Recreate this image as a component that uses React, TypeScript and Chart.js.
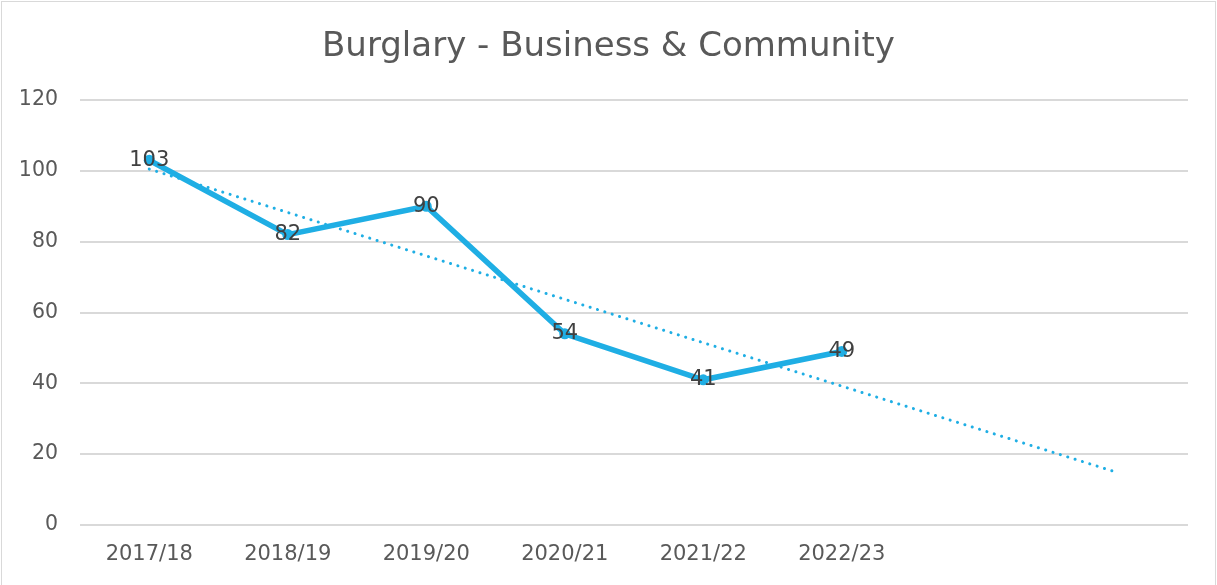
import React, { useEffect, useRef } from "react";
import { Chart, registerables } from "chart.js";

Chart.register(...registerables);

const categories = ["2017/18", "2018/19", "2019/20", "2020/21", "2021/22", "2022/23", "", ""];
const burglaryValues: (number | null)[] = [103, 82, 90, 54, 41, 49, null, null];
const trendValues: (number | null)[] = [100.5, null, null, null, null, null, null, 14.7];
const yTicks = [0, 20, 40, 60, 80, 100, 120];

const FONT = "'DejaVu Sans', sans-serif";
const BLUE = "#1FAEE4";

const dataLabelPlugin = {
  id: "dataLabels",
  afterDatasetsDraw(chart: any) {
    const ctx = chart.ctx;
    const meta = chart.getDatasetMeta(0);
    ctx.save();
    ctx.font = `21px ${FONT}`;
    ctx.fillStyle = "#404040";
    ctx.textAlign = "center";
    ctx.textBaseline = "middle";
    meta.data.forEach((pt: any, i: number) => {
      const v = burglaryValues[i];
      if (v === null || v === undefined) return;
      ctx.fillText(String(v), pt.x, pt.y);
    });
    ctx.restore();
  },
};

export default function App() {
  const ref = useRef<HTMLCanvasElement | null>(null);
  useEffect(() => {
    if (!ref.current) return;
    const chart = new Chart(ref.current, {
      type: "line",
      data: {
        labels: categories,
        datasets: [
          {
            label: "Burglary",
            data: burglaryValues,
            borderColor: BLUE,
            backgroundColor: BLUE,
            borderWidth: 5.5,
            pointRadius: 5.5,
            pointBorderWidth: 0,
            pointBackgroundColor: BLUE,
            tension: 0,
            order: 1,
          },
          {
            label: "Trend",
            data: trendValues,
            borderColor: BLUE,
            borderWidth: 3,
            borderDash: [0.1, 7.6],
            borderCapStyle: "round",
            pointRadius: 0,
            spanGaps: true,
            tension: 0,
            order: 2,
          },
        ],
      },
      options: {
        animation: false,
        responsive: false,
        maintainAspectRatio: false,
        layout: { padding: { left: 0, right: 0, top: 0, bottom: 0 } },
        plugins: {
          legend: { display: false },
          tooltip: { enabled: false },
          title: {
            display: true,
            text: "Burglary - Business & Community",
            color: "#595959",
            font: { family: FONT, size: 34, weight: "normal", lineHeight: 1.2 },
            padding: { top: 26.6, bottom: 32.6 },
          },
        },
        scales: {
          x: {
            offset: true,
            grid: { display: false, drawTicks: false },
            border: { display: false },
            ticks: {
              color: "#595959",
              font: { family: FONT, size: 21 },
              padding: 17.4,
              maxRotation: 0,
              autoSkip: false,
            },
            afterFit: (scale: any) => {
              scale.height = 60;
            },
          },
          y: {
            min: 0,
            max: 120,
            afterBuildTicks: (scale: any) => {
              scale.ticks = yTicks.map((v) => ({ value: v }));
            },
            grid: { color: "#D9D9D9", lineWidth: 2, drawTicks: false },
            border: { display: false },
            ticks: {
              color: "#595959",
              font: { family: FONT, size: 20.5 },
              padding: 22,
            },
            afterFit: (scale: any) => {
              scale.width = 80;
            },
          },
          yRightSpace: {
            position: "right",
            min: 0,
            max: 120,
            grid: { display: false, drawTicks: false },
            border: { display: false },
            ticks: { display: false },
            afterFit: (scale: any) => {
              scale.width = 29;
            },
          },
        },
      },
      plugins: [dataLabelPlugin],
    });
    return () => chart.destroy();
  }, []);

  return (
    <div style={{ position: "fixed", left: 0, top: 0, width: 1217, height: 585, background: "#fff", overflow: "hidden" }}>
      <canvas ref={ref} width={1217} height={585} style={{ position: "absolute", left: 0, top: 0 }} />
      <div
        style={{
          position: "absolute",
          left: 1,
          top: 1,
          width: 1215,
          height: 620,
          border: "1px solid #D9D9D9",
          boxSizing: "border-box",
          pointerEvents: "none",
        }}
      />
    </div>
  );
}
